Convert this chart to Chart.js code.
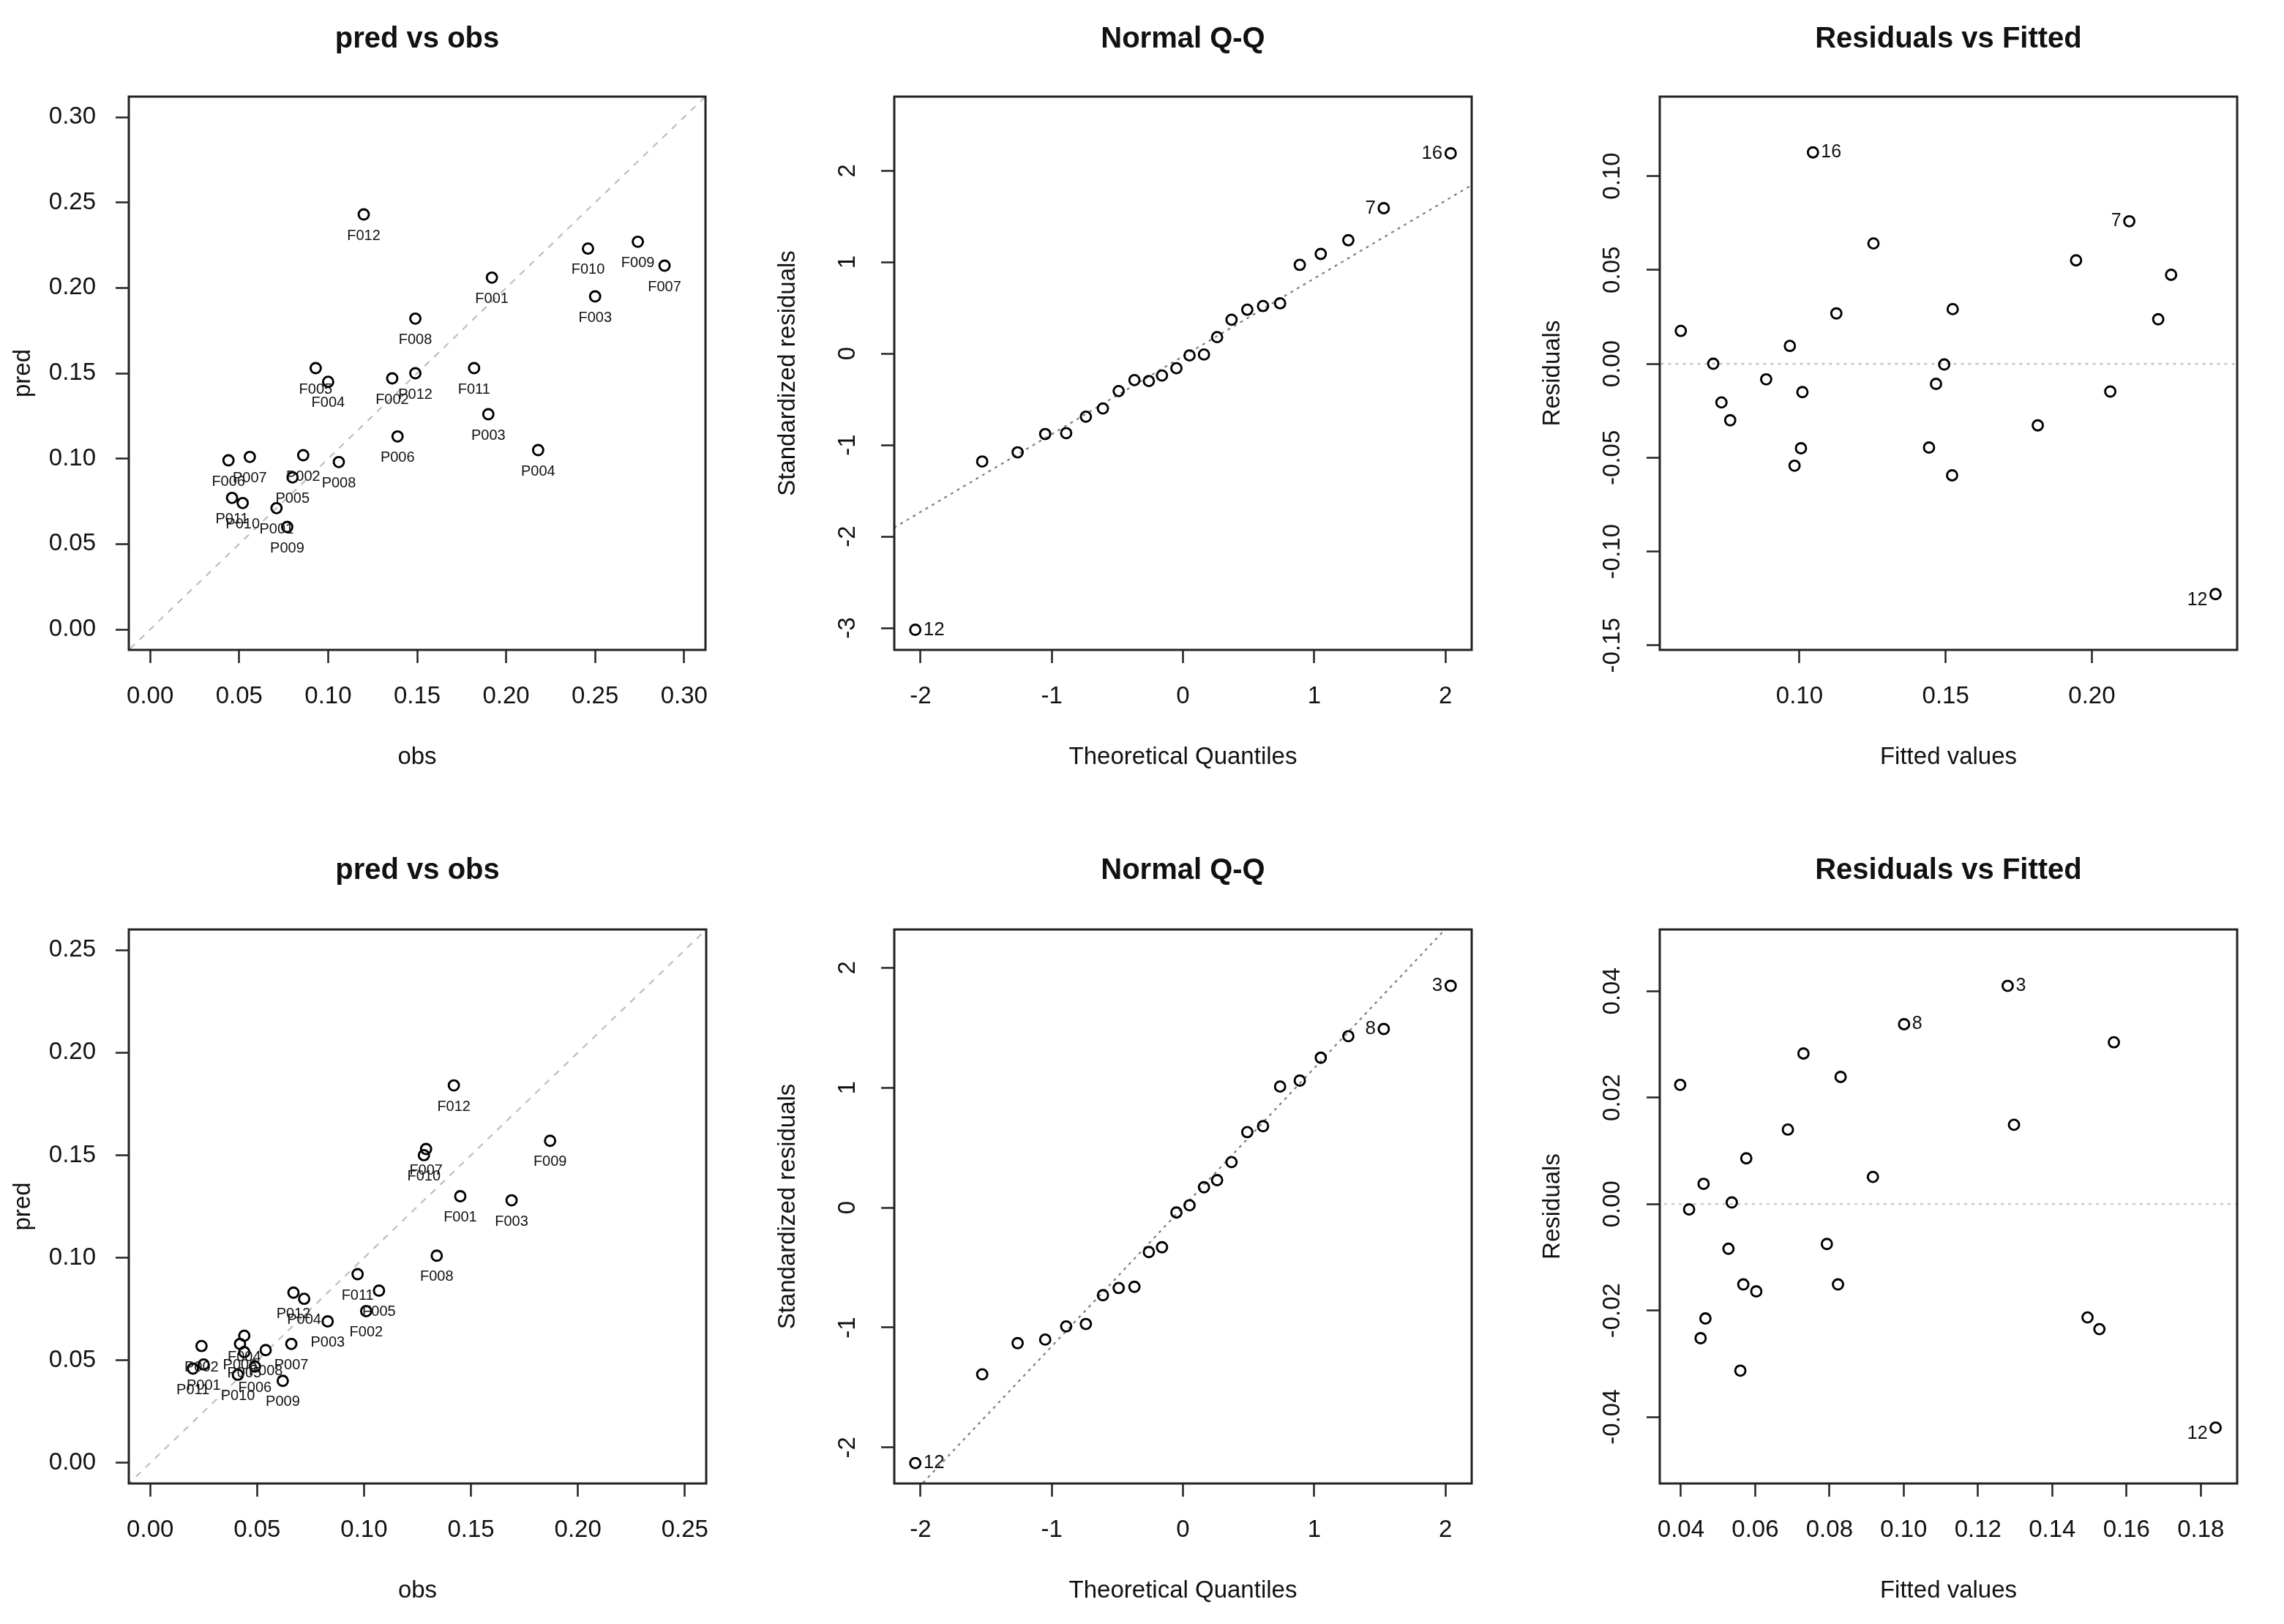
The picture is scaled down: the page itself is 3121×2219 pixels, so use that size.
<!DOCTYPE html>
<html lang="en">
<head>
<meta charset="UTF-8">
<title>pred vs obs / Normal Q-Q / Residuals vs Fitted</title>
<script src="https://cdn.jsdelivr.net/npm/chart.js"></script>
<style>
  body { margin: 0; background: #ffffff; }
  #board { position: relative; width: 3121px; height: 2219px; background: #ffffff; }
  #board canvas { position: absolute; }
</style>
</head>
<body>
<div id="board">
  <canvas id="c1" width="1040" height="1110" style="left:0px;top:0px"></canvas>
  <canvas id="c2" width="1040" height="1110" style="left:1040px;top:0px"></canvas>
  <canvas id="c3" width="1041" height="1110" style="left:2080px;top:0px"></canvas>
  <canvas id="c4" width="1040" height="1109" style="left:0px;top:1110px"></canvas>
  <canvas id="c5" width="1040" height="1109" style="left:1040px;top:1110px"></canvas>
  <canvas id="c6" width="1041" height="1109" style="left:2080px;top:1110px"></canvas>
</div>
<script>
// sample ids (same order in both pred vs obs plots)
const sites = ['F001','F002','F003','F004','F005','F006','F007','F008','F009','F010','F011','F012',
               'P001','P002','P003','P004','P005','P006','P007','P008','P009','P010','P011','P012'];

// top row model
const obsA  = [0.192, 0.136, 0.250, 0.100, 0.093, 0.044, 0.289, 0.149, 0.274, 0.246, 0.182, 0.120,
               0.071, 0.086, 0.190, 0.218, 0.080, 0.139, 0.056, 0.106, 0.077, 0.052, 0.046, 0.149];
const predA = [0.206, 0.147, 0.195, 0.145, 0.153, 0.099, 0.213, 0.182, 0.227, 0.223, 0.153, 0.243,
               0.071, 0.102, 0.126, 0.105, 0.089, 0.113, 0.101, 0.098, 0.060, 0.074, 0.077, 0.150];

// bottom row model
const obsB  = [0.145, 0.101, 0.169, 0.044, 0.107, 0.049, 0.129, 0.134, 0.187, 0.128, 0.097, 0.142,
               0.025, 0.024, 0.083, 0.072, 0.044, 0.042, 0.066, 0.054, 0.062, 0.041, 0.020, 0.067];
const predB = [0.130, 0.074, 0.128, 0.062, 0.084, 0.047, 0.153, 0.101, 0.157, 0.150, 0.092, 0.184,
               0.048, 0.057, 0.069, 0.080, 0.054, 0.058, 0.058, 0.055, 0.040, 0.043, 0.046, 0.083];

// normal Q-Q
const theoQ = [-2.04, -1.53, -1.26, -1.05, -0.89, -0.74, -0.61, -0.49, -0.37, -0.26, -0.16, -0.05,
                0.05,  0.16,  0.26,  0.37,  0.49,  0.61,  0.74,  0.89,  1.05,  1.26,  1.53,  2.04];
const stdResA = [-3.02, -1.18, -1.08, -0.88, -0.87, -0.69, -0.60, -0.41, -0.29, -0.30, -0.24, -0.16,
                 -0.02, -0.01,  0.18,  0.37,  0.48,  0.52,  0.55,  0.97,  1.09,  1.24,  1.59,  2.19];
const stdResB = [-2.13, -1.39, -1.13, -1.10, -0.99, -0.97, -0.73, -0.67, -0.66, -0.37, -0.33, -0.04,
                  0.02,  0.17,  0.23,  0.38,  0.63,  0.68,  1.01,  1.06,  1.25,  1.43,  1.49,  1.85];
const qqLineA = [[-2.25, -1.945], [2.25, 1.885]];
const qqLineB = [[-2.25, -2.606], [2.25, 2.614]];

// residuals vs fitted
const fitA = [0.0594, 0.0705, 0.0733, 0.0763, 0.0886, 0.0967, 0.1010, 0.1005, 0.0983, 0.1046, 0.1126, 0.1253,
              0.1467, 0.1495, 0.1524, 0.1443, 0.1522, 0.1815, 0.1946, 0.2063, 0.2128, 0.2227, 0.2271, 0.2423];
const resA = [0.0175, 0.0000, -0.0206, -0.0301, -0.0083, 0.0095, -0.0151, -0.0450, -0.0543, 0.1126, 0.0268, 0.0641,
              -0.0107, -0.0004, 0.0291, -0.0446, -0.0594, -0.0328, 0.0551, -0.0148, 0.0759, 0.0237, 0.0474, -0.1227];
const fitB = [0.0398, 0.0422, 0.0461, 0.0466, 0.0453, 0.0537, 0.0528, 0.0576, 0.0568, 0.0603, 0.0560, 0.0688,
              0.0730, 0.0793, 0.0830, 0.0823, 0.0917, 0.1001, 0.1280, 0.1297, 0.1495, 0.1527, 0.1566, 0.1840];
const resB = [0.0224, -0.0010, 0.0038, -0.0215, -0.0252, 0.0003, -0.0084, 0.0086, -0.0151, -0.0164, -0.0313, 0.0140,
              0.0283, -0.0075, 0.0239, -0.0151, 0.0051, 0.0338, 0.0410, 0.0149, -0.0213, -0.0235, 0.0304, -0.0420];

// flagged observations: index in series, label, side
const qqIdA = { idx: [0, 22, 23], text: ['12', '7', '16'], side: ['right', 'left', 'left'] };
const qqIdB = { idx: [0, 22, 23], text: ['12', '8', '3'],  side: ['right', 'left', 'left'] };
const rfIdA = { idx: [9, 20, 23], text: ['16', '7', '12'], side: ['right', 'left', 'left'] };
const rfIdB = { idx: [17, 18, 23], text: ['8', '3', '12'], side: ['right', 'right', 'left'] };

const FONT = '"Liberation Sans", Arial, Helvetica, sans-serif';
Chart.defaults.font.family = FONT;
Chart.defaults.color = '#111';

// R-like box around the plot region
const frame = {
  id: 'frame',
  afterDraw(chart) {
    const a = chart.chartArea, ctx = chart.ctx;
    ctx.save();
    ctx.strokeStyle = '#222';
    ctx.lineWidth = 3;
    ctx.strokeRect(a.left, a.top, a.right - a.left, a.bottom - a.top);
    ctx.restore();
  }
};

// point id labels
const idLabels = {
  id: 'idLabels',
  afterDatasetsDraw(chart, args, o) {
    if (!o.idx) return;
    const pts = chart.getDatasetMeta(0).data;
    const ctx = chart.ctx;
    ctx.save();
    ctx.fillStyle = '#111';
    ctx.textBaseline = 'middle';
    ctx.font = o.size + 'px ' + FONT;
    o.idx.forEach((i, k) => {
      const p = pts[i];
      const side = o.side[k];
      let x = p.x, y = p.y;
      if (side === 'below') { ctx.textAlign = 'center'; y += 29; }
      else if (side === 'left') { ctx.textAlign = 'right'; x -= 11; }
      else { ctx.textAlign = 'left'; x += 11; }
      if (o.text[k] === '12' && o.lowTwelve) y += 8;
      ctx.fillText(o.text[k], x, y);
    });
    ctx.restore();
  }
};
Chart.register(frame, idLabels);

function axis(o) {
  return {
    type: 'linear',
    position: o.pos,
    min: o.min,
    max: o.max,
    afterFit: s => { if (o.pos === 'left') s.width = o.size; else s.height = o.size; },
    grid: { drawOnChartArea: false, drawTicks: true, tickLength: 18, tickWidth: 2.5, tickColor: '#222' },
    border: { display: false },
    ticks: {
      stepSize: o.step,
      includeBounds: false,
      autoSkip: false,
      padding: o.pad,
      color: '#111',
      font: { size: 33 },
      minRotation: o.rot || 0,
      maxRotation: o.rot || 0,
      crossAlign: o.rot ? 'center' : 'near',
      callback: v => v.toFixed(o.dec)
    },
    title: {
      display: true, text: o.title, color: '#111', font: { size: 33 },
      padding: { top: o.tpad, bottom: o.tpad }
    }
  };
}

function pairs(xs, ys) { return xs.map((x, i) => ({ x: x, y: ys[i] })); }

function panel(id, p) {
  return new Chart(document.getElementById(id), {
    type: 'scatter',
    data: {
      datasets: [
        {
          data: pairs(p.xs, p.ys),
          pointStyle: 'circle', pointRadius: 7, pointBorderWidth: 2.9,
          borderColor: '#000', backgroundColor: 'rgba(0,0,0,0)', showLine: false
        },
        {
          data: p.ref.map(r => ({ x: r[0], y: r[1] })),
          showLine: true, pointRadius: 0, borderColor: p.refColor,
          borderWidth: 2.2, borderDash: p.refDash
        }
      ]
    },
    options: {
      responsive: false, animation: false, devicePixelRatio: 1, events: [],
      layout: { padding: { left: 0, right: p.padR, top: 0, bottom: 0 } },
      scales: { x: axis(p.x), y: axis(p.y) },
      plugins: {
        legend: { display: false },
        tooltip: { enabled: false },
        title: {
          display: true, text: p.title, fullSize: false, color: '#111',
          font: { size: 40, weight: 'bold' },
          padding: { top: p.tTop, bottom: p.tBot }
        },
        idLabels: p.ids
      }
    }
  });
}

const allIdx = sites.map((s, i) => i);
const belowSides = sites.map(() => 'below');
const row1 = { tTop: 30, tBot: 54, xSize: 222, xTpad: 55 };
const row2 = { tTop: 56, tBot: 56, xSize: 192, xTpad: 25 };

function predObs(id, row, xs, ys, lim, padR) {
  panel(id, {
    title: 'pred vs obs', tTop: row.tTop, tBot: row.tBot, padR: padR,
    xs: xs, ys: ys,
    ref: [[lim[0] - 0.01, lim[0] - 0.01], [lim[1] + 0.01, lim[1] + 0.01]],
    refColor: '#bebebe', refDash: [9, 9],
    x: { pos: 'bottom', min: lim[0], max: lim[1], step: 0.05, dec: 2, pad: 26, size: row.xSize, title: 'obs', tpad: row.xTpad },
    y: { pos: 'left', min: lim[0], max: lim[1], step: 0.05, dec: 2, pad: 27, size: 176, title: 'pred', tpad: 12 },
    ids: { idx: allIdx, text: sites, side: belowSides, size: 20 }
  });
}

function qq(id, row, ys, line, ylim, ids) {
  panel(id, {
    title: 'Normal Q-Q', tTop: row.tTop, tBot: row.tBot, padR: 69,
    xs: theoQ, ys: ys, ref: line, refColor: '#7f7f7f', refDash: [4, 6],
    x: { pos: 'bottom', min: -2.2, max: 2.2, step: 1, dec: 0, pad: 26, size: row.xSize, title: 'Theoretical Quantiles', tpad: row.xTpad },
    y: { pos: 'left', min: ylim[0], max: ylim[1], step: 1, dec: 0, pad: 30, size: 182, rot: 90, title: 'Standardized residuals', tpad: 17 },
    ids: Object.assign({ size: 26 }, ids)
  });
}

function rf(id, row, xs, ys, xlim, ylim, xstep, ystep, ids) {
  panel(id, {
    title: 'Residuals vs Fitted', tTop: row.tTop, tBot: row.tBot, padR: 64,
    xs: xs, ys: ys, ref: [[0, 0], [1, 0]], refColor: '#bebebe', refDash: [4, 6],
    x: { pos: 'bottom', min: xlim[0], max: xlim[1], step: xstep, dec: 2, pad: 26, size: row.xSize, title: 'Fitted values', tpad: row.xTpad },
    y: { pos: 'left', min: ylim[0], max: ylim[1], step: ystep, dec: 2, pad: 8, size: 188, rot: 90, title: 'Residuals', tpad: 22 },
    ids: Object.assign({ size: 25, lowTwelve: true }, ids)
  });
}

predObs('c1', row1, obsA, predA, [-0.012, 0.312], 76);
qq('c2', row1, stdResA, qqLineA, [-3.24, 2.81], qqIdA);
rf('c3', row1, fitA, resA, [0.0522, 0.2497], [-0.1524, 0.1423], 0.05, 0.05, rfIdA);

predObs('c4', row2, obsB, predB, [-0.01, 0.26], 75);
qq('c5', row2, stdResB, qqLineB, [-2.30, 2.32], qqIdB);
rf('c6', row2, fitB, resB, [0.0343, 0.1898], [-0.0525, 0.0516], 0.02, 0.02, rfIdB);
</script>
</body>
</html>
